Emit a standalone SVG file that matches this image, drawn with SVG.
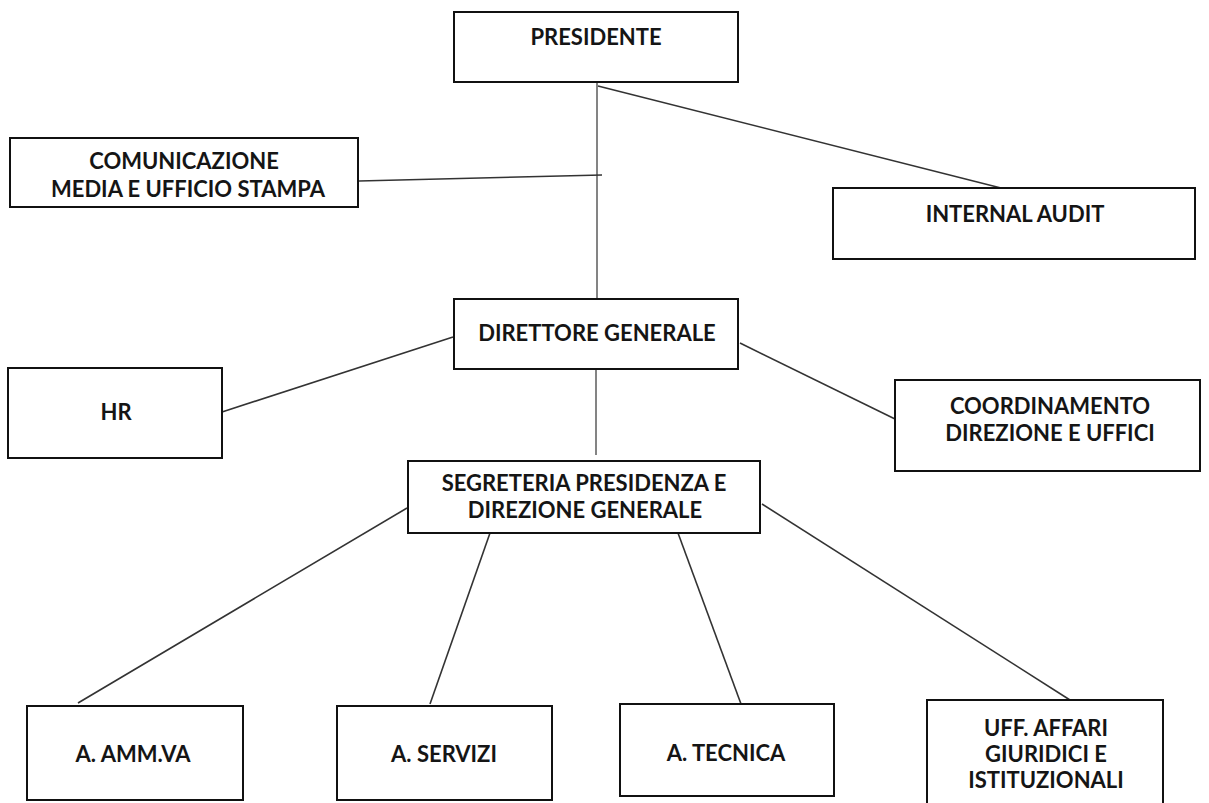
<svg xmlns="http://www.w3.org/2000/svg" width="1209" height="803" viewBox="0 0 1209 803">
<style>
.box{fill:#fff;stroke:#111;stroke-width:2}
.t{font-family:Lato,"Liberation Sans",sans-serif;font-weight:bold;font-size:22px;fill:#151515;text-anchor:middle}
.c{stroke:#333;stroke-width:1.6;fill:none}
.v{stroke:#777;stroke-width:1.8;fill:none}
</style>
<rect width="1209" height="803" fill="#fff"/>
<g id="connectors">
<line class="v" x1="597" y1="83" x2="597" y2="299"/>
<line class="c" x1="598" y1="86" x2="1001" y2="188"/>
<line class="c" x1="359" y1="181" x2="602" y2="175"/>
<line class="c" x1="222" y1="412" x2="453" y2="337"/>
<line class="c" x1="740" y1="343" x2="895" y2="419"/>
<line class="v" x1="596" y1="370" x2="596" y2="455"/>
<line class="c" x1="407" y1="508" x2="78" y2="703"/>
<line class="c" x1="490" y1="533" x2="430" y2="704"/>
<line class="c" x1="678" y1="533" x2="741" y2="704"/>
<line class="c" x1="762" y1="504" x2="1070" y2="700"/>
</g>
<g id="presidente"><rect class="box" x="454" y="12" width="284" height="70"/><text class="t" x="596" y="45">PRESIDENTE</text></g>
<g id="comunicazione"><rect class="box" x="10" y="138" width="348" height="69"/><text class="t" x="184" y="169">COMUNICAZIONE</text><text class="t" x="188" y="197">MEDIA E UFFICIO STAMPA</text></g>
<g id="internal-audit"><rect class="box" x="833" y="188" width="362" height="71"/><text class="t" x="1015" y="222">INTERNAL AUDIT</text></g>
<g id="direttore"><rect class="box" x="454" y="299" width="284" height="70"/><text class="t" x="597" y="341">DIRETTORE GENERALE</text></g>
<g id="hr"><rect class="box" x="8" y="368" width="214" height="90"/><text class="t" x="116" y="420">HR</text></g>
<g id="coordinamento"><rect class="box" x="895" y="380" width="305" height="91"/><text class="t" x="1050" y="414">COORDINAMENTO</text><text class="t" x="1050" y="441">DIREZIONE E UFFICI</text></g>
<g id="segreteria"><rect class="box" x="408" y="461" width="352" height="72"/><text class="t" x="584" y="491">SEGRETERIA PRESIDENZA E</text><text class="t" x="585" y="518">DIREZIONE GENERALE</text></g>
<g id="amm"><rect class="box" x="27" y="706" width="216" height="94"/><text class="t" x="133" y="762">A. AMM.VA</text></g>
<g id="servizi"><rect class="box" x="337" y="706" width="215" height="94"/><text class="t" x="444" y="762">A. SERVIZI</text></g>
<g id="tecnica"><rect class="box" x="620" y="704" width="214" height="92"/><text class="t" x="726" y="761">A. TECNICA</text></g>
<g id="uff"><rect class="box" x="927" y="700" width="236" height="115"/><text class="t" x="1046" y="736">UFF. AFFARI</text><text class="t" x="1046" y="762">GIURIDICI E</text><text class="t" x="1046" y="788">ISTITUZIONALI</text></g>
</svg>
